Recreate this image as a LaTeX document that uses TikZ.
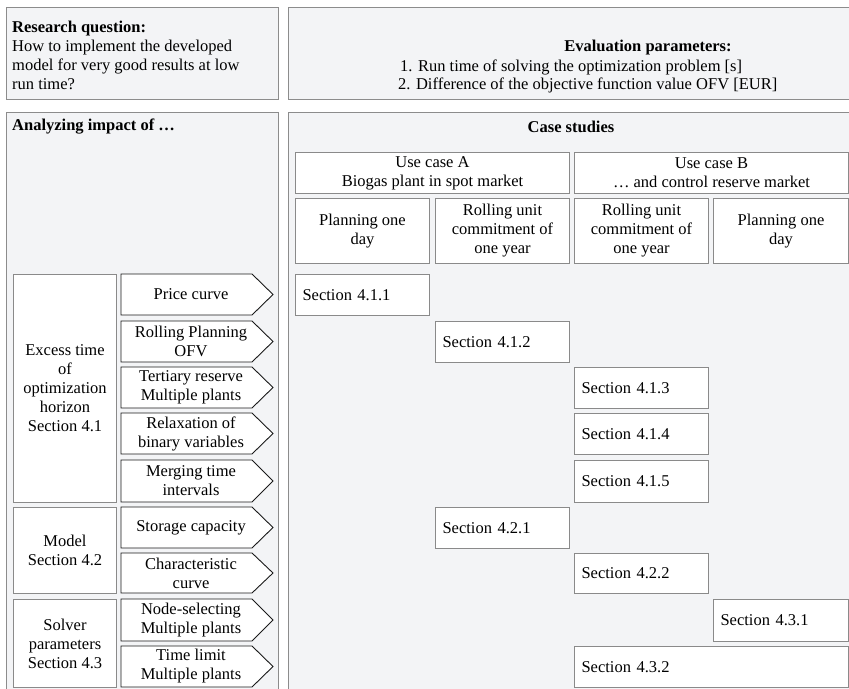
\documentclass[tikz,border=0pt]{standalone}
\usepackage{fontspec}
\setmainfont{Liberation Serif}
\definecolor{panelfill}{HTML}{F3F4F6}
\definecolor{panelborder}{HTML}{8C8C8C}
\definecolor{boxborder}{HTML}{8A8A8A}
\definecolor{arrowborder}{HTML}{1A1A1A}
\newcommand\basefont{\fontsize{16.5bp}{19bp}\selectfont}
\tikzset{
  panel/.style={draw=panelborder, fill=panelfill, line width=1.3bp},
  wbox/.style={draw=boxborder, fill=white, line width=1bp, inner sep=1bp, align=center},
  secbox/.style={draw=boxborder, fill=white, line width=1bp, inner ysep=0bp, inner xsep=7bp, align=left},
  arrowline/.style={draw=arrowborder, fill=white, line width=0.9bp, line join=miter},
  arrowtext/.style={inner sep=0bp, align=center},
  heading/.style={font=\basefont\bfseries, inner sep=0bp},
  plain/.style={inner sep=0bp, align=left}
}
\newcommand\rbox[7]{%
  \node[#6, minimum width={(#4-#2)*1bp}, minimum height={(#5-#3)*1bp}, anchor=north west] (#1) at (#2,#3) {#7};}
\newcommand\secnode[6]{%
  \node[secbox, text width={(#4-#2-14)*1bp}, minimum height={(#5-#3)*1bp}, anchor=north west] (#1) at (#2,#3) {#6};}
\newcommand\arrowitem[4]{%
  \draw[arrowline] (121,#2) -- (252,#2) -- (273,{(#2+#3)/2}) -- (252,#3) -- (121,#3) -- cycle;
  \node[arrowtext] (#1) at (191,{(#2+#3)/2}) {#4};}
\begin{document}
\begin{tikzpicture}[x=1bp, y=-1bp, font=\basefont]
\useasboundingbox (0,0) rectangle (849,689);
\clip (0,0) rectangle (849,689);
\fill[white] (0,0) rectangle (849,689);
% panels
\rbox{rq}{6}{7}{278}{99}{panel}{}
\rbox{ev}{288}{7}{1008}{99}{panel}{}
\rbox{an}{6}{112}{278}{720}{panel}{}
\rbox{cs}{288}{112}{855}{720}{panel}{}
% research question
\node[plain, anchor=north west] (rqt) at (12,20.5) {\textbf{Research question:}\\How to implement the developed\\model for very good results at low\\run time?};
% evaluation
\node[heading] (evh) at (648,48) {Evaluation parameters:};
\node[plain, anchor=west] (ev1) at (400,67) {1. Run time of solving the optimization problem [s]};
\node[plain, anchor=west] (ev2) at (398,85) {2. Difference of the objective function value OFV [EUR]};
% headings
\node[heading, anchor=west] (anh) at (12,127) {Analyzing impact of \dots};
\node[heading] (csh) at (571,127) {Case studies};
% use cases
\rbox{uca}{295}{152}{569}{193}{wbox}{Use case A\\Biogas plant in spot market}
\rbox{ucb}{574}{152}{848}{193}{wbox}{Use case B\\\dots\ and control reserve market}
\rbox{c1}{295}{198}{429}{263}{wbox}{Planning one\\day}
\rbox{c2}{435}{198}{569}{263}{wbox}{Rolling unit\\commitment of\\one year}
\rbox{c3}{574}{198}{708}{263}{wbox}{Rolling unit\\commitment of\\one year}
\rbox{c4}{713}{198}{848}{263}{wbox}{Planning one\\day}
% left category boxes
\rbox{exc}{13}{274}{116}{502}{wbox}{Excess time\\of\\optimization\\horizon\\Section 4.1}
\rbox{mod}{13}{507}{116}{593}{wbox}{Model\\Section 4.2}
\rbox{sol}{13}{599}{116}{687}{wbox}{Solver\\parameters\\Section 4.3}
% arrows
\arrowitem{a1}{274}{315}{Price curve}
\arrowitem{a2}{321}{362}{Rolling Planning\\OFV}
\arrowitem{a3}{367}{408}{Tertiary reserve\\Multiple plants}
\arrowitem{a4}{413}{454}{Relaxation of\\binary variables}
\arrowitem{a5}{460}{502}{Merging time\\intervals}
\arrowitem{a6}{507}{548}{Storage capacity}
\arrowitem{a7}{553}{593}{Characteristic\\curve}
\arrowitem{a8}{599}{641}{Node-selecting\\Multiple plants}
\arrowitem{a9}{646}{687}{Time limit\\Multiple plants}
% sections
\secnode{s411}{295}{274}{429}{315}{Section 4.1.1}
\secnode{s412}{435}{321}{569}{362}{Section 4.1.2}
\secnode{s413}{574}{367}{708}{408}{Section 4.1.3}
\secnode{s414}{574}{413}{708}{454}{Section 4.1.4}
\secnode{s415}{574}{460}{708}{502}{Section 4.1.5}
\secnode{s421}{435}{507}{569}{548}{Section 4.2.1}
\secnode{s422}{574}{553}{708}{593}{Section 4.2.2}
\secnode{s431}{713}{599}{848}{641}{Section 4.3.1}
\secnode{s432}{574}{646}{848}{687}{Section 4.3.2}
\end{tikzpicture}
\end{document}
